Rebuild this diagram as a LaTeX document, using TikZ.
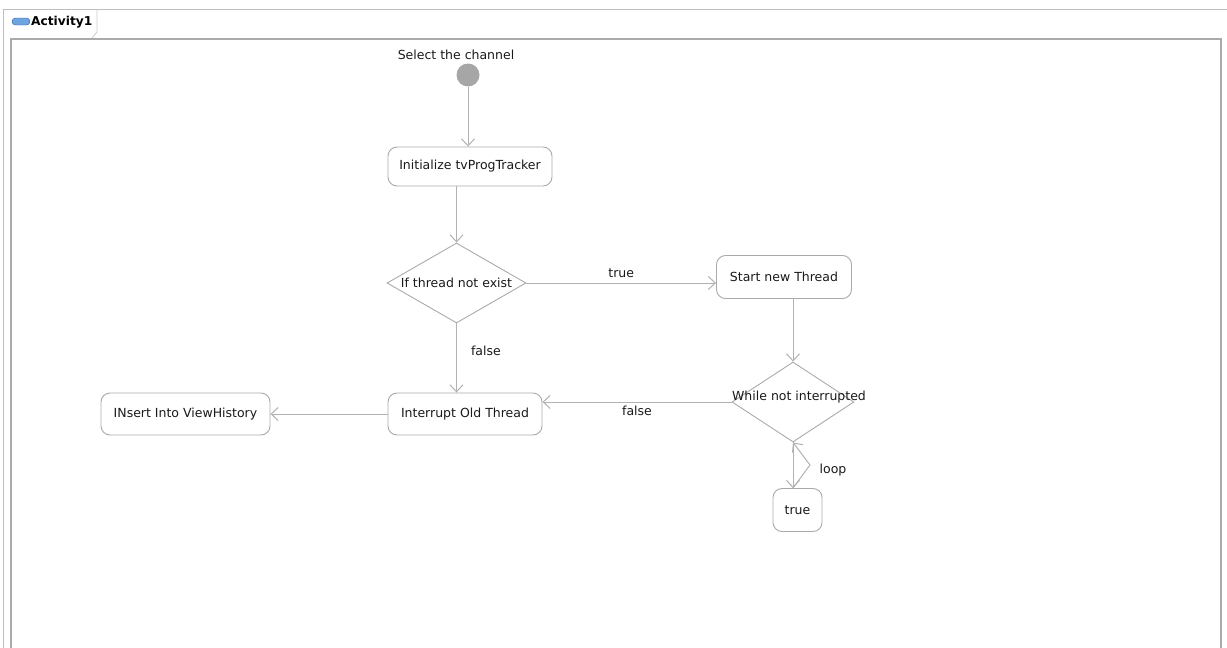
\documentclass[tikz,border=0pt]{standalone}
\usepackage{fontspec}
\setmainfont{DejaVu Sans}
\usetikzlibrary{shapes.geometric,arrows.meta}
\definecolor{edgegray}{RGB}{178,178,178}
\definecolor{boxgray}{RGB}{170,170,170}
\definecolor{framegray}{RGB}{190,190,190}
\definecolor{iconblue}{RGB}{110,165,225}
\definecolor{icondark}{RGB}{45,95,170}
\tikzset{
  lbl/.style={font=\fontsize{12.5}{14}\selectfont, text=black!90, inner sep=0pt},
  actbox/.style={draw=boxgray, line width=0.9pt, rounded corners=9pt, fill=white,
    font=\fontsize{12.5}{14}\selectfont, text=black!90, inner sep=0pt},
  decision/.style={diamond, draw=boxgray, line width=0.9pt, inner sep=0pt, aspect=1.7},
  flow/.style={draw=edgegray, line width=1pt, -{Straight Barb[length=7pt,width=13pt,line width=1pt]}},
  startdot/.style={circle, fill=gray!70, draw=none, minimum size=23pt, inner sep=0pt},
}
\begin{document}
\begin{tikzpicture}[x=1pt,y=-1pt]
\useasboundingbox (0,0) rectangle (1227,648);
% editor frame
\draw[framegray, line width=1pt] (3,660) -- (3,9) -- (1227,9);
\draw[boxgray, line width=1.6pt] (11,660) -- (11,39) -- (1221,39) -- (1221,660);
% tab
\draw[framegray!80, line width=0.8pt] (97,9) -- (97,32) -- (92,38);
\node[draw=icondark, fill=iconblue, rounded corners=3.5pt, minimum width=18pt,
  minimum height=7pt, inner sep=0pt] (icon) at (21,21.5) {};
\node[anchor=west, inner sep=0pt, font=\bfseries\fontsize{12.2}{14}\selectfont] (tab) at (31,22) {Activity1};

% initial node
\node[startdot] (start) at (468,75) {};
\node[lbl] (startlbl) at (456,55) {Select the channel};

% activities
\node[actbox, minimum width=164pt, minimum height=39pt] (init) at (470,166.5) {Initialize tvProgTracker};
\node[actbox, minimum width=135pt, minimum height=43pt] (snt) at (784,277) {Start new Thread};
\node[actbox, minimum width=154pt, minimum height=42pt] (iot) at (465,414) {Interrupt Old Thread};
\node[actbox, minimum width=169pt, minimum height=42pt] (ins) at (185.5,414) {INsert Into ViewHistory};
\node[actbox, minimum width=49pt, minimum height=43pt] (tru) at (797.5,510) {true};

% decisions
\node[decision, minimum width=139pt, minimum height=80pt] (d1) at (456.5,283) {};
\node[lbl] (d1lbl) at (d1.center) {If thread not exist};
\node[decision, minimum width=122pt, minimum height=80pt] (d2) at (793,402) {};
\node[lbl] (d2lbl) at (799,397) {While not interrupted};

% connectors
\draw[flow] (start.south) -- (start.south |- init.north);
\draw[flow] (d1.north |- init.south) -- (d1.north);
\draw[flow] (d1.east) -- (d1.east -| snt.west) node[lbl, midway, above=5pt] (tlbl) {true};
\draw[flow] (d2.north |- snt.south) -- (d2.north);
\draw[flow] (d1.south) -- (d1.south |- iot.north) node[lbl, pos=0.4, right=14pt] (flbl1) {false};
\draw[flow] (d2.west) -- (d2.west -| iot.east) node[lbl, midway, below=3pt] (flbl2) {false};
\draw[flow] (iot.west) -- (iot.west -| ins.east);
\draw[flow] (d2.south) -- (d2.south |- tru.north);
\coordinate (knee) at (810,465);
\draw[flow] (d2.south |- tru.north) -- (knee) -- (d2.south);
\node[lbl] (looplbl) at (833,470) {loop};
\end{tikzpicture}
\end{document}
